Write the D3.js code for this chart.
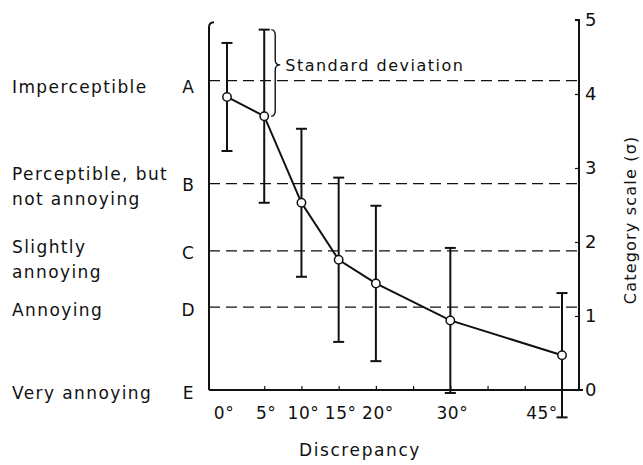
<!DOCTYPE html>
<html>
<head>
<meta charset="utf-8">
<script src="https://cdn.jsdelivr.net/npm/d3@7"></script>
<style>
  body { margin: 0; background: #fff; }
  svg text { font-family: "DejaVu Sans", sans-serif; fill: #111; }
</style>
</head>
<body>
<svg id="chart" width="643" height="465"></svg>
<script>
// Discrepancy (degrees) vs mean category score, with standard deviation bars
const degrees = [0, 5, 10, 15, 20, 30, 45];
const meanScore = [3.96, 3.70, 2.53, 1.76, 1.44, 0.94, 0.47];
const stdDev = [0.73, 1.17, 1.00, 1.11, 1.05, 0.98, 0.84];

// impairment categories and where their boundaries fall on the sigma scale
const categoryLetters = ["A", "B", "C", "D", "E"];
const categoryNames = [
  ["Imperceptible"],
  ["Perceptible, but", "not annoying"],
  ["Slightly", "annoying"],
  ["Annoying"],
  ["Very annoying"]
];
const categoryBounds = [4.18, 2.79, 1.88, 1.12, 0];

const xTickLabels = ["0°", "5°", "10°", "15°", "20°", "30°", "45°"];
const yTicks = [0, 1, 2, 3, 4, 5];

const svg = d3.select("#chart");
const x = d3.scaleLinear().domain([0, 45]).range([227, 562]);
const y = d3.scaleLinear().domain([0, 5]).range([390, 20]);
const left = 209, right = 579, bottom = 390;

const ink = "#111";

// dashed category boundary lines
svg.append("g").selectAll("line")
  .data(categoryBounds.slice(0, 4))
  .enter().append("line")
  .attr("x1", left).attr("x2", right)
  .attr("y1", d => y(d)).attr("y2", d => y(d))
  .attr("stroke", ink).attr("stroke-width", 1.3)
  .attr("stroke-dasharray", "11,6");

// left frame line with small hook at top
svg.append("path")
  .attr("d", `M${left + 5},${y(4.97)} Q${left},${y(4.97)} ${left},${y(4.9)} L${left},${bottom}`)
  .attr("fill", "none").attr("stroke", ink).attr("stroke-width", 2);

// bottom axis
const xAxis = d3.axisBottom(x)
  .tickValues(d3.range(5, 45, 5))
  .tickSizeInner(-4).tickSizeOuter(0)
  .tickFormat("");
const gx = svg.append("g").attr("transform", `translate(0,${bottom})`).call(xAxis);
gx.select(".domain").remove();
gx.selectAll(".tick line").attr("stroke", ink).attr("stroke-width", 1.2);
svg.append("line")
  .attr("x1", left).attr("x2", right + 4)
  .attr("y1", bottom).attr("y2", bottom)
  .attr("stroke", ink).attr("stroke-width", 2);

// x tick labels (45° label sits left of its bar)
svg.append("g").selectAll("text")
  .data(degrees)
  .enter().append("text")
  .attr("x", (d, i) => x(d) + (d === 45 ? -20 : (d === 0 ? -3 : 2)))
  .attr("y", 419)
  .attr("text-anchor", "middle")
  .attr("font-size", 17)
  .attr("letter-spacing", 0.5)
  .text((d, i) => xTickLabels[i]);

svg.append("text")
  .attr("x", 360).attr("y", 456)
  .attr("text-anchor", "middle")
  .attr("font-size", 17)
  .attr("letter-spacing", 1.6)
  .text("Discrepancy");

// right axis (category scale)
const yAxis = d3.axisRight(y)
  .tickValues(yTicks)
  .tickFormat(d3.format("d"))
  .tickSizeInner(-4).tickSizeOuter(0);
const gy = svg.append("g").attr("transform", `translate(${right},0)`).call(yAxis);
gy.select(".domain").remove();
gy.selectAll(".tick line").attr("stroke", ink).attr("stroke-width", 1.2);
gy.selectAll(".tick text")
  .attr("font-family", "DejaVu Sans, sans-serif")
  .attr("font-size", 18).attr("fill", ink).attr("x", 6);
svg.append("path")
  .attr("d", `M${right - 4},${y(5)} L${right},${y(5)} L${right},${bottom}`)
  .attr("fill", "none").attr("stroke", ink).attr("stroke-width", 2);

svg.append("text")
  .attr("transform", `translate(636,${y(2.3)}) rotate(-90)`)
  .attr("text-anchor", "middle")
  .attr("font-size", 16)
  .attr("letter-spacing", 1.2)
  .text("Category scale (σ)");

// category letters and names at left
const letterDy = [6, 2, 2, 3, 3];
const nameDy = [6, 3, 9, 3, 3];
svg.append("g").selectAll("text")
  .data(categoryLetters)
  .enter().append("text")
  .attr("x", 188).attr("y", (d, i) => y(categoryBounds[i]) + letterDy[i])
  .attr("dy", "0.35em")
  .attr("text-anchor", "middle")
  .attr("font-size", 17)
  .text(d => d);

categoryNames.forEach((lines, i) => {
  const cy = y(categoryBounds[i]) + nameDy[i];
  const t = svg.append("text")
    .attr("x", 12).attr("font-size", 17).attr("letter-spacing", 1.4);
  lines.forEach((ln, j) => {
    t.append("tspan")
      .attr("x", 12)
      .attr("y", cy + (j - (lines.length - 1) / 2) * 25)
      .attr("dy", "0.35em")
      .text(ln);
  });
});

// error bars
const bars = svg.append("g").selectAll("g")
  .data(degrees.map((d, i) => ({ d, m: meanScore[i], s: stdDev[i] })))
  .enter().append("g");
bars.append("line")
  .attr("x1", v => x(v.d)).attr("x2", v => x(v.d))
  .attr("y1", v => y(v.m + v.s)).attr("y2", v => y(v.m - v.s))
  .attr("stroke", ink).attr("stroke-width", 2);
["+", "-"].forEach(sign => {
  bars.append("line")
    .attr("x1", v => x(v.d) - 5.5).attr("x2", v => x(v.d) + 5.5)
    .attr("y1", v => y(sign === "+" ? v.m + v.s : v.m - v.s))
    .attr("y2", v => y(sign === "+" ? v.m + v.s : v.m - v.s))
    .attr("stroke", ink).attr("stroke-width", 2);
});

// mean line and markers
const line = d3.line().x((d, i) => x(d)).y((d, i) => y(meanScore[i]));
svg.append("path")
  .datum(degrees)
  .attr("d", line)
  .attr("fill", "none").attr("stroke", ink).attr("stroke-width", 2);
svg.append("g").selectAll("circle")
  .data(degrees)
  .enter().append("circle")
  .attr("cx", d => x(d)).attr("cy", (d, i) => y(meanScore[i]))
  .attr("r", 4.2)
  .attr("fill", "#fff").attr("stroke", ink).attr("stroke-width", 1.5);

// brace marking the 5° standard deviation
const bx = x(5) + 11;
const top5 = y(meanScore[1] + stdDev[1]), mid5 = y(meanScore[1]);
const cy5 = (top5 + mid5) / 2 - 8;
svg.append("path")
  .attr("d", `M${bx - 4},${top5} Q${bx},${top5} ${bx},${top5 + 6}
              L${bx},${cy5 - 5} Q${bx},${cy5} ${bx + 5},${cy5}
              Q${bx},${cy5} ${bx},${cy5 + 5}
              L${bx},${mid5 - 6} Q${bx},${mid5} ${bx - 4},${mid5}`)
  .attr("fill", "none").attr("stroke", ink).attr("stroke-width", 1.4);
svg.append("text")
  .attr("x", bx + 10).attr("y", cy5)
  .attr("dy", "0.35em")
  .attr("font-size", 16)
  .attr("letter-spacing", 1.5)
  .text("Standard deviation");
</script>
</body>
</html>
